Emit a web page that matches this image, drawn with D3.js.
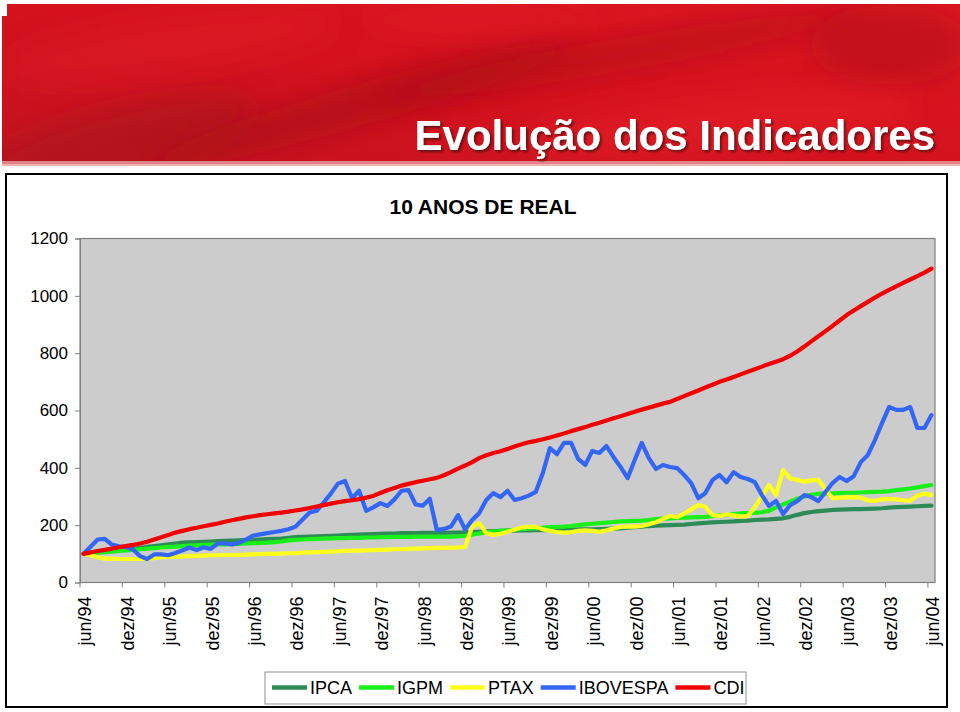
<!DOCTYPE html>
<html><head><meta charset="utf-8">
<script src="https://cdn.jsdelivr.net/npm/d3@7"></script>
<style>html,body{margin:0;padding:0;background:#fff;}svg{display:block;}</style>
</head><body>
<svg id="c" width="960" height="712"></svg>
<script>
// ---------- data ----------
const seriesNames = ["IPCA","IGPM","PTAX","IBOVESPA","CDI"];
const seriesColors = ["#2E8B57","#19F019","#FFFF1E","#3366F5","#F20000"];
const tickLabels = ["jun/94","dez/94","jun/95","dez/95","jun/96","dez/96","jun/97","dez/97","jun/98","dez/98","jun/99","dez/99","jun/00","dez/00","jun/01","dez/01","jun/02","dez/02","jun/03","dez/03","jun/04"];
const yTicks = [0,200,400,600,800,1000,1200];
// monthly values jun/94 .. jun/04 (121 months)
const ipca = [100,103,106,108,110,113,116,118,121,124,127,130,133,136,139,140,141,142,143,144,145,146,147,148,149,150,151,152,153,156,158,159,160,161,162,163,164,165,166,167,168,169,170,171,171,172,172,172,173,173,173,173,174,174,175,176,177,178,179,180,181,181,182,182,183,183,183,184,184,184,185,185,185,186,187,188,189,191,193,195,197,198,199,200,201,202,204,206,208,210,211,212,213,215,216,218,219,220,222,224,229,236,242,246,249,251,253,254,255,256,256,257,258,259,261,263,264,265,266,267,268];
const igpm = [100,102,104,106,108,110,112,114,116,118,120,122,124,125,127,129,130,131,132,133,133,134,135,136,137,138,139,141,143,147,149,150,151,152,153,154,155,155,156,156,157,157,158,158,159,159,159,160,160,160,160,160,160,161,163,167,171,175,178,180,182,184,186,188,189,191,193,194,195,197,200,203,205,207,209,211,213,214,215,216,218,221,223,224,225,226,227,228,229,231,234,236,239,241,242,243,245,250,262,272,282,292,300,306,309,311,311,312,313,313,314,315,316,317,319,322,325,328,332,336,340];
const ptax = [100,95,88,83,83,82,82,82,82,83,85,88,89,90,91,92,93,94,95,95,96,96,96,97,98,99,100,100,101,102,102,104,105,106,107,108,109,110,111,111,112,113,114,115,116,116,117,118,119,120,121,121,122,122,124,195,207,172,166,170,177,185,192,194,194,186,180,176,174,176,180,182,180,177,182,188,194,195,195,197,203,210,222,232,228,240,255,270,264,235,232,238,234,230,232,262,300,340,305,392,363,358,352,356,358,325,294,296,297,298,296,286,285,290,292,290,287,285,303,310,305];
const ibovespa = [100,125,150,152,132,126,124,115,92,82,98,98,95,103,112,122,113,123,117,136,136,133,138,150,164,168,172,176,180,186,195,220,244,250,280,310,345,354,294,320,250,262,277,267,290,320,322,272,268,292,183,187,195,235,185,218,242,288,312,298,320,288,294,303,316,382,469,448,487,487,431,410,459,452,476,438,403,364,427,487,434,396,410,403,399,375,347,294,312,357,375,350,385,368,361,350,305,267,284,239,270,284,305,298,284,316,347,368,354,371,420,445,497,556,612,602,602,612,539,539,584];
const cdi = [100,105,110,114,118,123,127,131,136,142,150,158,166,174,180,186,191,196,201,206,212,217,222,227,231,235,238,241,244,247,251,255,260,265,270,275,280,284,287,291,296,302,312,322,330,338,344,350,355,360,365,374,385,397,408,420,434,444,452,458,466,474,482,489,494,500,506,513,520,528,535,542,550,557,565,573,580,588,596,603,610,617,624,630,640,650,660,670,680,690,700,708,717,726,735,744,753,762,770,779,791,806,823,841,859,877,895,914,933,949,964,979,994,1008,1021,1033,1045,1057,1069,1081,1095];
const seriesValues = [ipca, igpm, ptax, ibovespa, cdi];

// ---------- drawing ----------
const svg = d3.select("#c");
const FONT = "'Liberation Sans', Arial, sans-serif";
const defs = svg.append("defs");

// banner
const g1 = defs.append("linearGradient").attr("id","bg").attr("x1","0").attr("y1","1").attr("x2","1").attr("y2","0");
g1.append("stop").attr("offset","0").attr("stop-color","#C41420");
g1.append("stop").attr("offset","0.5").attr("stop-color","#D4121E");
g1.append("stop").attr("offset","1").attr("stop-color","#DC1822");
const blur = defs.append("filter").attr("id","bl").attr("x","-50%").attr("y","-50%").attr("width","200%").attr("height","200%");
blur.append("feGaussianBlur").attr("stdDeviation","14");
const sh = defs.append("filter").attr("id","sh").attr("x","-5%").attr("y","-20%").attr("width","110%").attr("height","140%");
sh.append("feDropShadow").attr("dx",2).attr("dy",2).attr("stdDeviation",1).attr("flood-color","#4a0808").attr("flood-opacity",0.8);
const clip = defs.append("clipPath").attr("id","bc");
clip.append("rect").attr("x",2).attr("y",4).attr("width",958).attr("height",160);

const banner = svg.append("g").attr("clip-path","url(#bc)");
banner.append("rect").attr("x",2).attr("y",4).attr("width",958).attr("height",160).attr("fill","url(#bg)");
const blobs = [
  {cx:110,cy:145,rx:150,ry:35,rot:-15,c:"#A8121C",o:0.6},
  {cx:360,cy:105,rx:230,ry:20,rot:-16,c:"#A60E18",o:0.6},
  {cx:620,cy:55,rx:250,ry:16,rot:-10,c:"#B00E19",o:0.55},
  {cx:890,cy:45,rx:80,ry:40,rot:0,c:"#B00E19",o:0.5},
  {cx:720,cy:125,rx:200,ry:28,rot:-6,c:"#E8222C",o:0.5},
  {cx:170,cy:45,rx:170,ry:28,rot:-8,c:"#DE1E28",o:0.5},
  {cx:480,cy:20,rx:120,ry:16,rot:0,c:"#E01C26",o:0.5}
];
banner.selectAll("ellipse").data(blobs).join("ellipse")
  .attr("cx",d=>d.cx).attr("cy",d=>d.cy).attr("rx",d=>d.rx).attr("ry",d=>d.ry)
  .attr("transform",d=>`rotate(${d.rot},${d.cx},${d.cy})`)
  .attr("fill",d=>d.c).attr("opacity",d=>d.o).attr("filter","url(#bl)");
svg.append("rect").attr("x",2).attr("y",161).attr("width",958).attr("height",5).attr("fill","#E8A0A0").attr("opacity",0.8);
svg.append("rect").attr("x",0).attr("y",0).attr("width",7).attr("height",16).attr("fill","#fff");

svg.append("text").attr("x",935).attr("y",150).attr("text-anchor","end")
  .attr("font-family",FONT).attr("font-weight","bold").attr("font-size",42)
  .attr("fill","#fff").attr("filter","url(#sh)").text("Evolução dos Indicadores");

// chart box
svg.append("rect").attr("x",6).attr("y",174).attr("width",941).attr("height",533)
  .attr("fill","#fff").attr("stroke","#000").attr("stroke-width",2);

svg.append("text").attr("x",483).attr("y",214).attr("text-anchor","middle")
  .attr("font-family",FONT).attr("font-weight","bold").attr("font-size",21)
  .text("10 ANOS DE REAL");

// scales
const n = ipca.length;
const plotL = 80, plotR = 935, plotT = 238.5, plotB = 582.5;
const x = d3.scaleLinear().domain([-0.5, n - 0.5]).range([plotL, plotR]);
const y = d3.scaleLinear().domain([0, 1200]).range([plotB, plotT]);

svg.append("rect").attr("x",plotL).attr("y",plotT).attr("width",plotR-plotL).attr("height",plotB-plotT)
  .attr("fill","#CCCCCC").attr("stroke","#808080").attr("stroke-width",1.2);

// y axis
const yAxis = svg.append("g").attr("transform",`translate(${plotL},0)`)
  .call(d3.axisLeft(y).tickValues(yTicks).tickSize(5).tickPadding(7).tickFormat(d3.format("d")));
yAxis.select(".domain").attr("stroke","#808080");
yAxis.selectAll(".tick line").attr("stroke","#808080");
yAxis.selectAll("text").attr("font-family",FONT).attr("font-size",17).attr("fill","#000");

// x axis: ticks at category boundaries every 6 months, labels at category centre
const tickIdx = tickLabels.map((_,k)=>k*6);
const xAxisG = svg.append("g");
xAxisG.selectAll("line").data(tickIdx).join("line")
  .attr("x1",d=>x(d-0.5)).attr("x2",d=>x(d-0.5)).attr("y1",plotB).attr("y2",plotB+5)
  .attr("stroke","#808080");
xAxisG.selectAll("text").data(tickIdx).join("text")
  .attr("transform",(d)=>`translate(${x(d)+1.5},${plotB+14}) rotate(-90)`)
  .attr("text-anchor","end").attr("dy","0.35em")
  .attr("font-family",FONT).attr("font-size",18)
  .text((d,k)=>tickLabels[k]);

// lines
const line = d3.line().x((d,i)=>x(i)).y(d=>y(d));
svg.append("g").selectAll("path").data(seriesValues).join("path")
  .attr("d",d=>line(d)).attr("fill","none")
  .attr("stroke",(d,i)=>seriesColors[i]).attr("stroke-width",4.2)
  .attr("stroke-linejoin","round").attr("stroke-linecap","round");

// legend
const lg = svg.append("g");
lg.append("rect").attr("x",265).attr("y",672).attr("width",481).attr("height",32)
  .attr("fill","#fff").attr("stroke","#909090").attr("stroke-width",1);
let cx = 272;
seriesNames.forEach((name,i)=>{
  lg.append("line").attr("x1",cx).attr("x2",cx+35).attr("y1",687.5).attr("y2",687.5)
    .attr("stroke",seriesColors[i]).attr("stroke-width",4.5);
  const t = lg.append("text").attr("x",cx+38).attr("y",694).attr("font-family",FONT).attr("font-size",18).text(name);
  const w = t.node().getComputedTextLength();
  cx = cx + 38 + w + 7;
});
</script>
</body></html>
